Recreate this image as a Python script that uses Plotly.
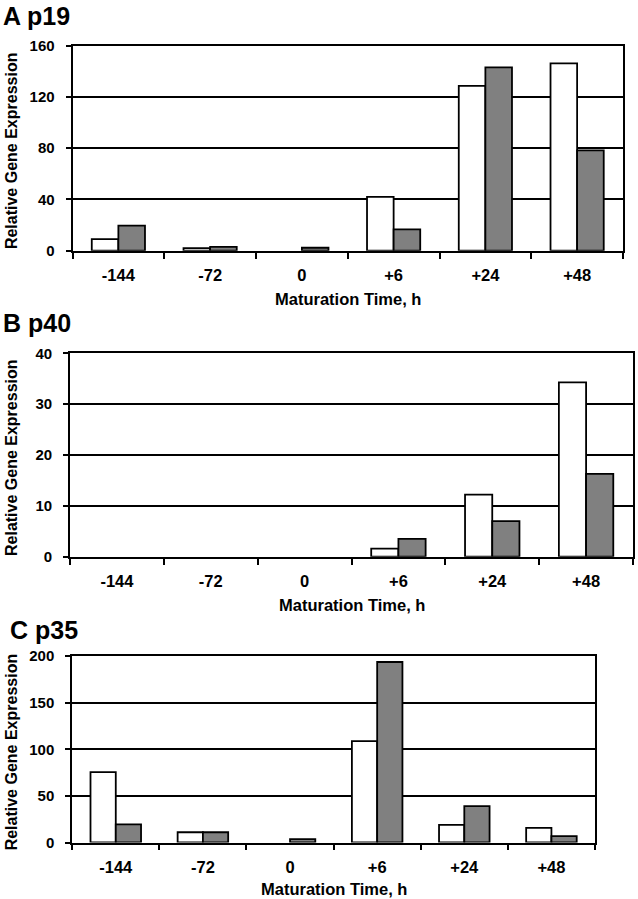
import plotly.graph_objects as go

W, H = 638, 899

categories = ["-144", "-72", "0", "+6", "+24", "+48"]

# Panel A: p19
p19_white = [9, 2, 0, 42, 128.5, 146]
p19_gray = [19.5, 3, 2.3, 16.7, 143, 78.3]

# Panel B: p40
p40_white = [0, 0, 0, 1.6, 12.2, 34.3]
p40_gray = [0, 0, 0, 3.5, 7.0, 16.3]

# Panel C: p35
p35_white = [75.5, 11, 0, 108.8, 19, 15.8]
p35_gray = [19.4, 11, 3.6, 193.8, 39, 6.8]

panel_titles = ["A p19", "B p40", "C p35"]
y_ranges = [[0, 160], [0, 40], [0, 200]]
y_dticks = [40, 10, 50]
x_title = "Maturation Time, h"
y_title = "Relative Gene Expression"

# plot area pixel boxes: (left, right, top, bottom)
boxes = [
    (72.5, 623, 45.5, 250.7),
    (70, 633, 353.3, 556.7),
    (72.2, 595, 656.2, 842.5),
]
title_pos = [(1, 16), (1, 323), (8, 630)]
xtitle_y = [299, 605, 889]


def px(x):
    return x / W


def py(y):
    return 1 - y / H


FONT = "Liberation Sans, Arial, sans-serif"
LW = 1.8

fig = go.Figure()
series = [(p19_white, p19_gray), (p40_white, p40_gray), (p35_white, p35_gray)]


def nz(vals):
    return [v if v else None for v in vals]


annotations = []
for i, ((white, gray), box) in enumerate(zip(series, boxes)):
    n = "" if i == 0 else str(i + 1)
    xa, ya = "x" + n, "y" + n
    fig.add_trace(go.Bar(x=categories, y=nz(white), xaxis=xa, yaxis=ya,
                         marker=dict(color="white", line=dict(color="black", width=LW)),
                         showlegend=False))
    fig.add_trace(go.Bar(x=categories, y=nz(gray), xaxis=xa, yaxis=ya,
                         marker=dict(color="#808080", line=dict(color="black", width=LW)),
                         showlegend=False))
    l, r, t, b = box
    fig.layout["xaxis" + n] = dict(
        domain=[px(l), px(r)], anchor=ya, type="category", categoryorder="array",
        categoryarray=categories, showline=True, linecolor="black", linewidth=LW,
        mirror=True, ticks="outside", tickson="boundaries", ticklen=6,
        tickcolor="black", tickwidth=LW, showgrid=False, automargin=False,
        tickfont=dict(family=FONT, size=16.5, color="black", weight="bold"),
        ticklabelstandoff=9,
    )
    fig.layout["yaxis" + n] = dict(
        domain=[py(b), py(t)], anchor=xa, range=y_ranges[i], dtick=y_dticks[i], tick0=0,
        showline=True, linecolor="black", linewidth=LW, mirror=True,
        ticks="outside", ticklen=5, tickcolor="black", tickwidth=LW,
        showgrid=True, gridcolor="black", gridwidth=LW, zeroline=False,
        automargin=False,
        tickfont=dict(family=FONT, size=15, color="black", weight="bold"),
        ticklabelstandoff=8,
    )
    # panel label
    tx, ty = title_pos[i]
    annotations.append(dict(text="<b>%s</b>" % panel_titles[i], xref="paper", yref="paper",
                            x=px(tx), y=py(ty), xanchor="left", yanchor="middle",
                            showarrow=False, font=dict(family=FONT, size=25, color="black")))
    # x title
    annotations.append(dict(text="<b>%s</b>" % x_title, xref="paper", yref="paper",
                            x=px((l + r) / 2), y=py(xtitle_y[i]), xanchor="center",
                            yanchor="middle", showarrow=False,
                            font=dict(family=FONT, size=16.5, color="black")))
    # y title
    annotations.append(dict(text="<b>%s</b>" % y_title, xref="paper", yref="paper",
                            x=px(11), y=py((t + b) / 2 + 3), xanchor="center",
                            yanchor="middle", textangle=-90, showarrow=False,
                            font=dict(family=FONT, size=16, color="black")))

fig.update_layout(
    width=W, height=H, margin=dict(l=0, r=0, t=0, b=0, pad=0, autoexpand=False),
    paper_bgcolor="white", plot_bgcolor="white",
    barmode="group", bargap=0.42, bargroupgap=0,
    annotations=annotations,
)

fig.write_html(
    "out.html",
    config={"displayModeBar": False},
    post_script="document.body.style.margin='0';document.body.style.overflow='hidden';",
)
